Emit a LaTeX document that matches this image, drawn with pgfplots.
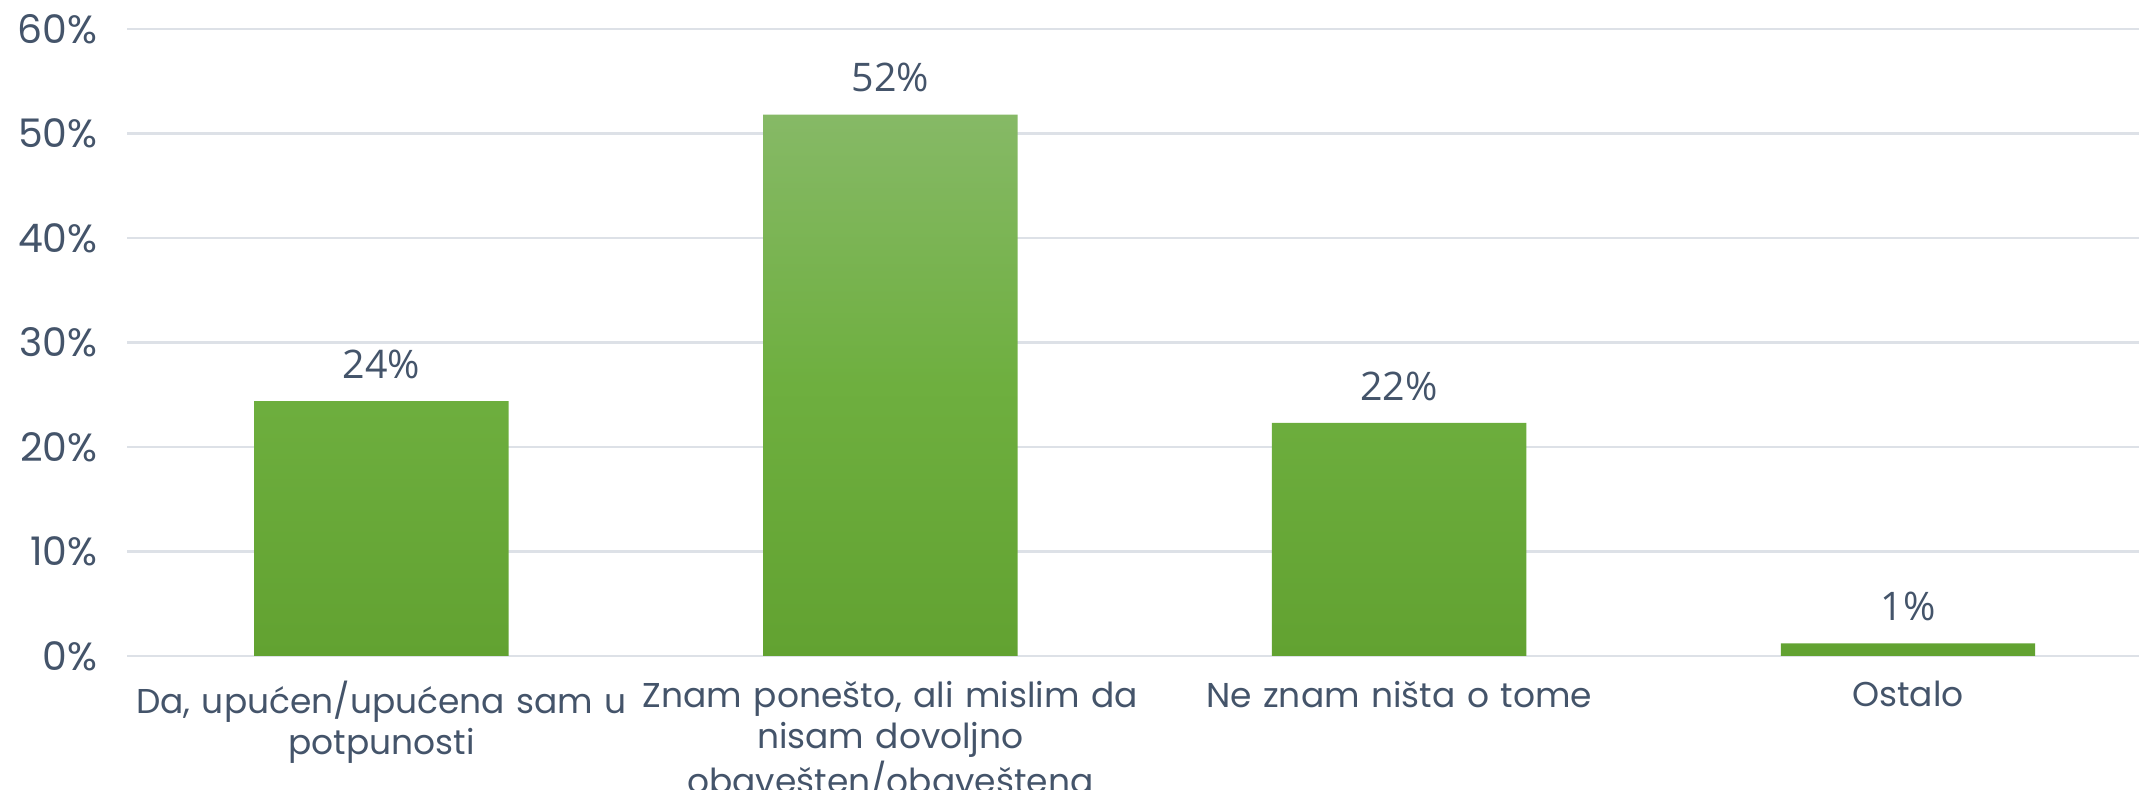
\documentclass[border=0pt]{standalone}
\usepackage{pgfplots}
\pgfplotsset{compat=1.18}
\usepackage{fontspec}
\setmainfont{Poppins}
\newfontfamily\lblfont{Open Sans}
\definecolor{txt}{HTML}{44546A}
\definecolor{gridc}{HTML}{DDE1E7}
\definecolor{gtop}{HTML}{86B966}
\definecolor{gmid}{HTML}{6EAF3F}
\definecolor{gbot}{HTML}{62A231}
\begin{document}
\begin{tikzpicture}
\begin{axis}[
  scale only axis,
  width=201.2mm, height=62.7mm,
  xmin=-0.5, xmax=3.454,
  ymin=0, ymax=60,
  axis line style={draw=none},
  major tick length=0pt,
  ytick={0,10,20,30,40,50,60},
  yticklabels={0\%,10\%,20\%,30\%,40\%,50\%,60\%},
  ymajorgrids, xmajorgrids=false,
  major grid style={draw=gridc, line width=0.8pt},
  xtick={0,1,2,3},
  xticklabels={{Da, upućen/upućena sam u\\potpunosti},{Znam ponešto, ali mislim da\\nisam dovoljno\\obavešten/obaveštena},{Ne znam ništa o tome},{Ostalo}},
  xticklabel style={text width=70mm, align=center, font=\fontsize{9.8}{11.6}\selectfont, text=txt, anchor=north, yshift=-1.3mm},
  yticklabel style={font=\fontsize{11.2}{12}\selectfont, text=txt, anchor=east, xshift=-1.7mm},
  clip=false,
]
\addplot[ybar, bar width=0.5, draw=none, top color=gtop, bottom color=gbot, middle color=gmid,
  point meta=explicit symbolic,
  nodes near coords,
  every node near coord/.append style={font=\lblfont\fontsize{11.2}{12}\selectfont, text=txt, anchor=south, yshift=1.0mm}]
coordinates {(0,24.4) [24\%] (1,51.8) [52\%] (2,22.3) [22\%] (3,1.2) [1\%]};
\end{axis}
\pgfresetboundingbox
\path ([xshift=-12.7mm,yshift=-13.4mm]current axis.south west) rectangle ([yshift=2.9mm]current axis.north east);
\end{tikzpicture}
\end{document}
